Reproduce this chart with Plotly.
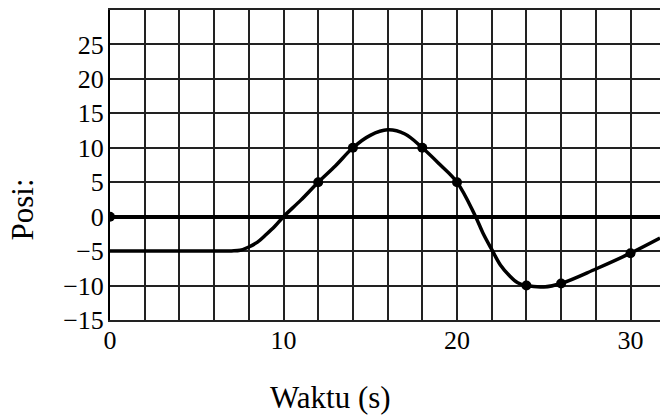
import plotly.graph_objects as go

# Curve samples
curve_t = [0, 6, 7, 7.5, 8, 8.5, 9, 9.5, 10, 11, 12, 13, 14, 15, 16, 17, 18, 19, 20,
           21, 21.5, 22, 22.5, 23, 23.5, 24, 25, 26, 28, 30, 31.7]
curve_x = [-5, -5, -4.97, -4.88, -4.4, -3.7, -2.6, -1.4, 0, 2.4, 5, 7.4, 10, 11.8, 12.6, 12.0, 10, 7.6, 5,
           0.4, -2.4, -4.75, -7.0, -8.5, -9.6, -10, -10.2, -9.7, -7.6, -5.3, -3.1]

# Marked points
dot_t = [0, 12, 14, 18, 20, 24, 26, 30]
dot_x = [0, 5, 10, 10, 5, -10, -9.7, -5.3]

x_ticks = [0, 10, 20, 30]
y_ticks = [-15, -10, -5, 0, 5, 10, 15, 20, 25]

FONT = "Liberation Serif"

fig = go.Figure()
fig.add_trace(go.Scatter(x=curve_t, y=curve_x, mode="lines",
                         line=dict(color="black", width=3.5, shape="spline", smoothing=1.0),
                         hoverinfo="skip", showlegend=False))
fig.add_trace(go.Scatter(x=dot_t, y=dot_x, mode="markers",
                         marker=dict(color="black", size=10),
                         showlegend=False))

fig.update_layout(
    width=660, height=418,
    margin=dict(l=110, r=0, t=10, b=98),
    paper_bgcolor="white", plot_bgcolor="white",
    font=dict(family=FONT, color="black", size=26),
    xaxis=dict(range=[0, 31.7], tickvals=x_ticks, ticktext=[str(v) for v in x_ticks],
               automargin=False,
               showgrid=False, zeroline=False,
               showline=True, linecolor="#222", linewidth=2, mirror=True,
               ticks="", ticklabelstandoff=-4,
               minor=dict(dtick=2, tick0=0, showgrid=True, gridcolor="#222", gridwidth=1.5),
               tickfont=dict(family=FONT, size=26)),
    yaxis=dict(range=[-15, 30], tickvals=y_ticks, ticktext=[str(v).replace("-", "\u2212") for v in y_ticks],
               automargin=False,
               showgrid=True, gridcolor="#222", gridwidth=1.5,
               zeroline=True, zerolinecolor="black", zerolinewidth=4,
               showline=True, linecolor="black", linewidth=2,
               ticks="", ticklabelstandoff=-1,
               tickfont=dict(family=FONT, size=26)),
    annotations=[
        dict(text="Posi:", textangle=-90, xref="paper", yref="paper",
             x=-0.159, y=0.355, xanchor="center", yanchor="middle", showarrow=False,
             font=dict(family=FONT, size=31, color="black")),
        dict(text="Waktu (s)", xref="paper", yref="paper",
             x=0.4, y=-0.2516, xanchor="center", yanchor="middle", showarrow=False,
             font=dict(family=FONT, size=31, color="black")),
    ],
)

fig.write_html("out.html", config={"displayModeBar": False},
               post_script="document.body.style.margin='0';")
